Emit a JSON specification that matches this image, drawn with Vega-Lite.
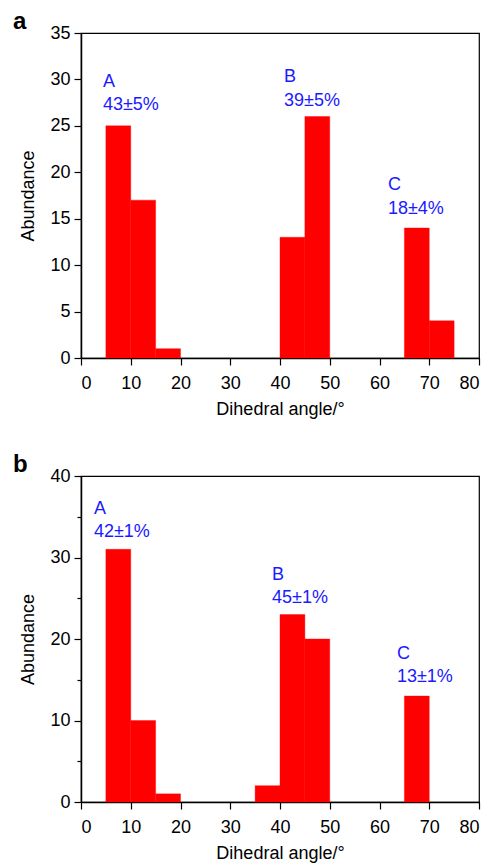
{
  "$schema": "https://vega.github.io/schema/vega-lite/v6.json",
  "padding": {"left": 12, "top": 9, "right": 5, "bottom": 0},
  "spacing": 33,
  "config": {
    "font": "Liberation Sans",
    "view": {"stroke": "black", "strokeWidth": 1.2},
    "axis": {
      "domainColor": "black",
      "domainWidth": 1.5,
      "tickColor": "black",
      "tickWidth": 1.2,
      "labelColor": "black",
      "labelFontSize": 18,
      "labelFont": "Liberation Sans",
      "titleFont": "Liberation Sans",
      "titleFontSize": 18,
      "titleFontWeight": "normal",
      "titleColor": "black",
      "grid": false,
      "labelOverlap": false
    },
    "axisX": {"labelPadding": 9, "titlePadding": 8},
    "axisY": {"labelPadding": 4, "titlePadding": 12},
    "title": {"fontSize": 24, "fontWeight": "bold", "anchor": "start", "frame": "bounds", "color": "black", "font": "Liberation Sans"}
  },
  "datasets": {
    "bars": [
      {"panel": "a", "start": 5, "end": 10, "count": 25},
      {"panel": "a", "start": 10, "end": 15, "count": 17},
      {"panel": "a", "start": 15, "end": 20, "count": 1},
      {"panel": "a", "start": 40, "end": 45, "count": 13},
      {"panel": "a", "start": 45, "end": 50, "count": 26},
      {"panel": "a", "start": 65, "end": 70, "count": 14},
      {"panel": "a", "start": 70, "end": 75, "count": 4},
      {"panel": "b", "start": 5, "end": 10, "count": 31},
      {"panel": "b", "start": 10, "end": 15, "count": 10},
      {"panel": "b", "start": 15, "end": 20, "count": 1},
      {"panel": "b", "start": 35, "end": 40, "count": 2},
      {"panel": "b", "start": 40, "end": 45, "count": 23},
      {"panel": "b", "start": 45, "end": 50, "count": 20},
      {"panel": "b", "start": 65, "end": 70, "count": 13}
    ],
    "labels": [
      {"panel": "a", "x": 4.4, "y": 29.7, "text": "A"},
      {"panel": "a", "x": 4.4, "y": 27.2, "text": "43±5%"},
      {"panel": "a", "x": 40.8, "y": 30.3, "text": "B"},
      {"panel": "a", "x": 40.8, "y": 27.7, "text": "39±5%"},
      {"panel": "a", "x": 61.7, "y": 18.6, "text": "C"},
      {"panel": "a", "x": 61.7, "y": 16.0, "text": "18±4%"},
      {"panel": "b", "x": 2.6, "y": 36.0, "text": "A"},
      {"panel": "b", "x": 2.6, "y": 33.1, "text": "42±1%"},
      {"panel": "b", "x": 38.4, "y": 27.9, "text": "B"},
      {"panel": "b", "x": 38.4, "y": 25.0, "text": "45±1%"},
      {"panel": "b", "x": 63.5, "y": 18.2, "text": "C"},
      {"panel": "b", "x": 63.5, "y": 15.3, "text": "13±1%"}
    ]
  },
  "vconcat": [
    {
      "width": 398,
      "height": 325,
      "title": {"text": "a", "dx": -7, "offset": -10},
      "layer": [
        {
          "data": {"name": "bars"},
          "transform": [{"filter": "datum.panel === 'a'"}],
          "mark": {"type": "rect", "color": "#ff0000", "stroke": "#ff0000", "strokeWidth": 0.4},
          "encoding": {
            "x": {"field": "start", "type": "quantitative", "scale": {"domain": [0, 80], "nice": false},
              "axis": {"title": "Dihedral angle/°", "values": [0,5,10,15,20,25,30,35,40,45,50,55,60,65,70,75,80],
                "labelExpr": "datum.value % 10 === 0 ? datum.label : ''",
                "tickSize": {"condition": {"test": "datum.value % 10 === 0", "value": 7}, "value": 4}}},
            "x2": {"field": "end"},
            "y": {"field": "count", "type": "quantitative", "scale": {"domain": [0, 35], "nice": false},
              "axis": {"title": "Abundance", "values": [0,2.5,5,7.5,10,12.5,15,17.5,20,22.5,25,27.5,30,32.5,35],
                "labelExpr": "datum.value % 5 === 0 ? datum.label : ''",
                "tickSize": {"condition": {"test": "datum.value % 5 === 0", "value": 7}, "value": 4}}},
            "y2": {"datum": 0}
          }
        },
        {
          "data": {"name": "labels"},
          "transform": [{"filter": "datum.panel === 'a'"}],
          "mark": {"type": "text", "align": "left", "baseline": "middle", "fontSize": 18, "color": "#1a1aff", "font": "Liberation Sans"},
          "encoding": {
            "x": {"field": "x", "type": "quantitative"},
            "y": {"field": "y", "type": "quantitative"},
            "text": {"field": "text"}
          }
        }
      ]
    },
    {
      "width": 398,
      "height": 326,
      "title": {"text": "b", "dx": -7, "offset": -10},
      "layer": [
        {
          "data": {"name": "bars"},
          "transform": [{"filter": "datum.panel === 'b'"}],
          "mark": {"type": "rect", "color": "#ff0000", "stroke": "#ff0000", "strokeWidth": 0.4},
          "encoding": {
            "x": {"field": "start", "type": "quantitative", "scale": {"domain": [0, 80], "nice": false},
              "axis": {"title": "Dihedral angle/°", "values": [0,5,10,15,20,25,30,35,40,45,50,55,60,65,70,75,80],
                "labelExpr": "datum.value % 10 === 0 ? datum.label : ''",
                "tickSize": {"condition": {"test": "datum.value % 10 === 0", "value": 7}, "value": 4}}},
            "x2": {"field": "end"},
            "y": {"field": "count", "type": "quantitative", "scale": {"domain": [0, 40], "nice": false},
              "axis": {"title": "Abundance", "values": [0,5,10,15,20,25,30,35,40],
                "labelExpr": "datum.value % 10 === 0 ? datum.label : ''",
                "tickSize": {"condition": {"test": "datum.value % 10 === 0", "value": 7}, "value": 4}}},
            "y2": {"datum": 0}
          }
        },
        {
          "data": {"name": "labels"},
          "transform": [{"filter": "datum.panel === 'b'"}],
          "mark": {"type": "text", "align": "left", "baseline": "middle", "fontSize": 18, "color": "#1a1aff", "font": "Liberation Sans"},
          "encoding": {
            "x": {"field": "x", "type": "quantitative"},
            "y": {"field": "y", "type": "quantitative"},
            "text": {"field": "text"}
          }
        }
      ]
    }
  ]
}
